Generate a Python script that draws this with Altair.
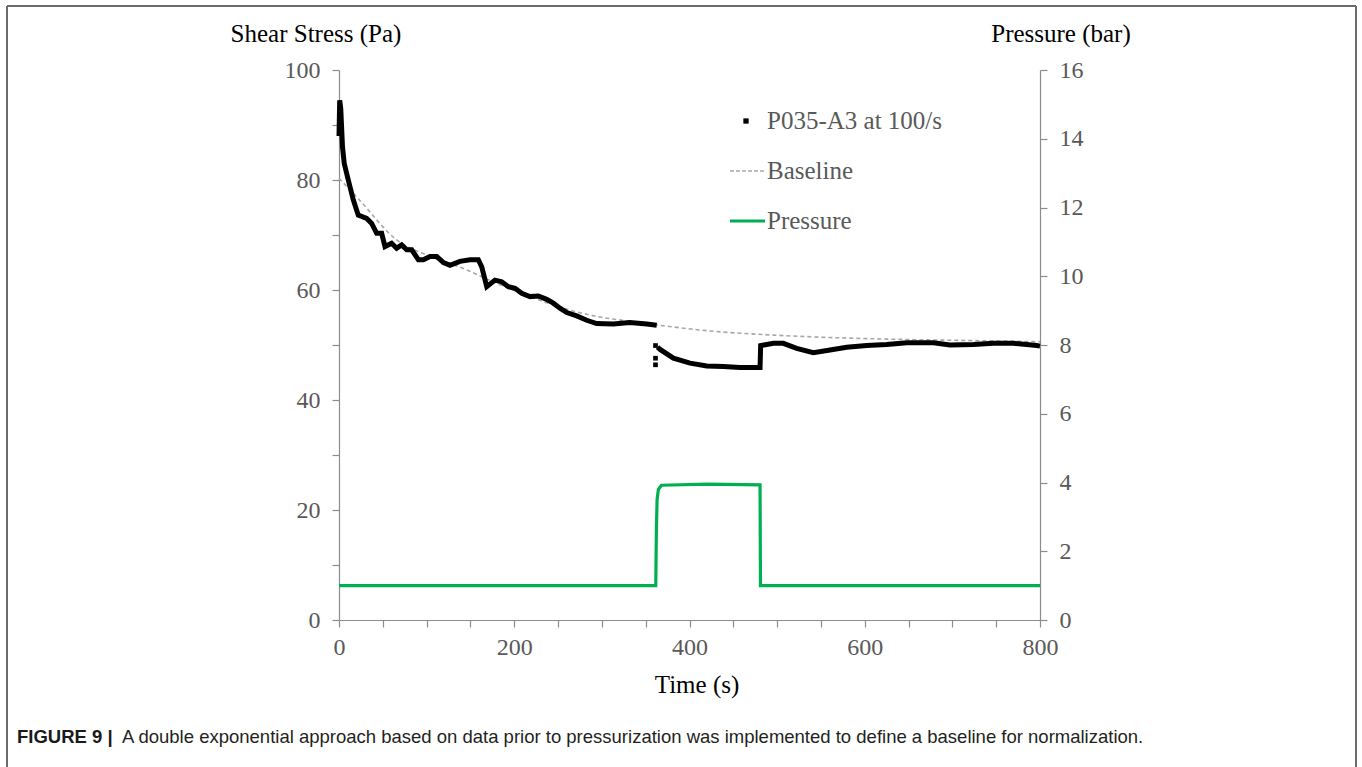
import altair as alt
import pandas as pd

# Shear stress (Pa) before pressurization
pre_t = [0, 0.8, 2, 4, 6, 10.6, 16.3, 22, 31.6, 37.3, 43, 48.7, 52.5, 60, 65.8,
         71.5, 77.3, 83, 90.6, 96.3, 103.9, 111.5, 119.2, 126.7, 138, 149.5, 159,
         162.9, 168.6, 178, 185.7, 193.3, 200.9, 208.5, 218, 227.5, 237, 244.6,
         252.2, 259.9, 271.3, 282.7, 294, 313, 332, 351.2, 362.6]
pre_v = [88, 94.5, 93, 86, 83, 80, 76.4, 73.6, 73.0, 72.1, 70.3, 70.3, 67.9, 68.5,
         67.6, 68.2, 67.3, 67.3, 65.5, 65.5, 66.1, 66.1, 65.0, 64.5, 65.2, 65.5,
         65.5, 64.2, 60.6, 61.8, 61.5, 60.6, 60.3, 59.4, 58.8, 58.9, 58.3, 57.6,
         56.7, 55.9, 55.3, 54.5, 53.9, 53.8, 54.1, 53.8, 53.6]

# Shear stress (Pa) during and after pressurization
post_t = [363.5, 366.4, 381.6, 400.6, 419.7, 438.6, 457.6, 480.5, 481.2, 485,
          495.7, 507, 522.3, 541.3, 560.4, 579.4, 602.2, 625, 648, 678.4, 697.3,
          724, 746.8, 769.6, 796.3, 800]
post_v = [49.6, 49.2, 47.6, 46.7, 46.2, 46.1, 45.9, 45.9, 49.9, 50.0, 50.3, 50.3,
          49.4, 48.6, 49.1, 49.6, 49.9, 50.1, 50.4, 50.4, 50.0, 50.1, 50.3, 50.3,
          49.9, 49.8]

# Scattered readings at the onset of pressurization
onset_t = [361.2, 361.2, 361.2]
onset_v = [49.9, 47.6, 46.4]

# Double exponential baseline (Pa)
base_t = [0, 22, 65.8, 104, 142, 180, 218, 256, 294, 332, 370, 420, 496, 572,
          648, 724, 800]
base_v = [80.3, 76.6, 69.1, 66.1, 63.9, 61.2, 58.8, 56.7, 55.2, 54.3, 53.5, 52.6,
          51.8, 51.3, 51.0, 50.8, 50.6]

# Pressure (bar)
pres_t = [0, 361.5, 362.2, 363, 364.5, 368, 420, 480.5, 481, 800]
pres_v = [1.0, 1.0, 2.6, 3.5, 3.8, 3.92, 3.95, 3.93, 1.0, 1.0]

x_ticks = list(range(0, 801, 50))
left_ticks = list(range(0, 101, 10))
right_ticks = list(range(0, 17, 2))

SERIF = "Liberation Serif"
AXIS_GREY = "#8c8c8c"
LABEL_GREY = "#595959"
GREEN = "#00b050"

W, H = 701, 550
PAD_L, PAD_T = 339, 70

pre_df = pd.DataFrame({"t": pre_t, "v": pre_v})
post_df = pd.DataFrame({"t": post_t, "v": post_v})
onset_df = pd.DataFrame({"t": onset_t, "v": onset_v})
base_df = pd.DataFrame({"t": base_t, "v": base_v})
pres_df = pd.DataFrame({"t": pres_t, "p": pres_v})
one = pd.DataFrame({"k": [0]})

x_enc = alt.X(
    "t:Q",
    scale=alt.Scale(domain=[0, 800], nice=False, zero=False),
    axis=alt.Axis(
        values=x_ticks,
        labelExpr="datum.value % 200 == 0 ? datum.label : ''",
        title=None, grid=False, tickSize=7, labelPadding=8,
        labelFlush=False, labelOverlap=False,
    ),
)
y_left = alt.Y(
    "v:Q",
    scale=alt.Scale(domain=[0, 100], nice=False),
    axis=alt.Axis(
        values=left_ticks,
        labelExpr="datum.value % 20 == 0 ? datum.label : ''",
        title=None, grid=False, tickSize=7, labelPadding=12,
        labelOverlap=False,
    ),
)

stress_pre = alt.Chart(pre_df).mark_line(color="black", strokeWidth=5).encode(
    x=x_enc, y=y_left)
stress_post = alt.Chart(post_df).mark_line(color="black", strokeWidth=5).encode(
    x=x_enc, y=y_left)
stress_onset = alt.Chart(onset_df).mark_square(color="black", size=22, opacity=1).encode(
    x=x_enc, y=y_left)
baseline = alt.Chart(base_df).mark_line(
    color="#a6a6a6", strokeWidth=1.6, strokeDash=[4, 3], interpolate="monotone"
).encode(x=x_enc, y=y_left)

left_layer = alt.layer(baseline, stress_pre, stress_post, stress_onset)

pressure = alt.Chart(pres_df).mark_line(color=GREEN, strokeWidth=3.2).encode(
    x=x_enc,
    y=alt.Y(
        "p:Q",
        scale=alt.Scale(domain=[0, 16], nice=False),
        axis=alt.Axis(
            orient="right", values=right_ticks, title=None, grid=False,
            tickSize=7, labelPadding=12, labelOverlap=False,
        ),
    ),
)


def text_at(txt, x, y, size=25, color="black", align="center", font=SERIF, weight="normal"):
    return alt.Chart(one).mark_text(
        align=align, baseline="alphabetic", font=font, fontSize=size,
        color=color, fontWeight=weight,
    ).encode(x=alt.value(x), y=alt.value(y), text=alt.value(txt))


def rule_at(x, y, x2, y2, color, width, dash=None):
    kw = dict(color=color, strokeWidth=width)
    if dash:
        kw["strokeDash"] = dash
    return alt.Chart(one).mark_rule(**kw).encode(
        x=alt.value(x), y=alt.value(y), x2=alt.value(x2), y2=alt.value(y2))


# Axis titles
titles = [
    text_at("Shear Stress (Pa)", 316 - PAD_L, 42 - PAD_T),
    text_at("Pressure (bar)", 1061 - PAD_L, 42 - PAD_T),
    text_at("Time (s)", 697 - PAD_L, 693 - PAD_T),
]

# Legend
lx, ly = 767 - PAD_L, 121 - PAD_T
legend = [
    alt.Chart(one).mark_square(color="black", size=28, opacity=1).encode(
        x=alt.value(746 - PAD_L), y=alt.value(ly)),
    text_at("P035-A3 at 100/s", lx, ly + 8, color=LABEL_GREY, align="left"),
    rule_at(730 - PAD_L, ly + 50, 765 - PAD_L, ly + 50, "#a6a6a6", 1.4, [4, 2]),
    text_at("Baseline", lx, ly + 58, color=LABEL_GREY, align="left"),
    rule_at(730 - PAD_L, ly + 100, 765 - PAD_L, ly + 100, GREEN, 3),
    text_at("Pressure", lx, ly + 108, color=LABEL_GREY, align="left"),
]

# Figure frame and caption
frame = [
    rule_at(7 - PAD_L, 6 - PAD_T, 1356 - PAD_L, 6 - PAD_T, "#6b6b6b", 2),
    rule_at(7 - PAD_L, 6 - PAD_T, 7 - PAD_L, 767 - PAD_T, "#6b6b6b", 2),
    rule_at(1356 - PAD_L, 6 - PAD_T, 1356 - PAD_L, 767 - PAD_T, "#6b6b6b", 2),
]
caption = [
    text_at("FIGURE 9 |", 17 - PAD_L, 743 - PAD_T, size=18.5, color="#1a1a1a",
            align="left", font="Liberation Sans", weight="bold"),
    text_at("A double exponential approach based on data prior to pressurization "
            "was implemented to define a baseline for normalization.",
            122 - PAD_L, 743 - PAD_T, size=18.5, color="#231f20", align="left",
            font="Liberation Sans"),
]

chart = (
    alt.layer(left_layer, pressure, *titles, *legend, *frame, *caption)
    .resolve_scale(y="independent")
    .properties(
        width=W, height=H,
        padding={"left": PAD_L, "top": PAD_T, "right": 1362 - PAD_L - W,
                 "bottom": 767 - PAD_T - H},
        autosize=alt.AutoSizeParams(type="none"),
        background="white",
    )
    .configure_view(stroke=None)
    .configure_axis(
        domainColor=AXIS_GREY, tickColor=AXIS_GREY, domainWidth=1.2, tickWidth=1.2,
        labelFont=SERIF, labelFontSize=24, labelColor=LABEL_GREY,
    )
)

chart.save("out.html", embed_options={"renderer": "svg", "actions": False})
